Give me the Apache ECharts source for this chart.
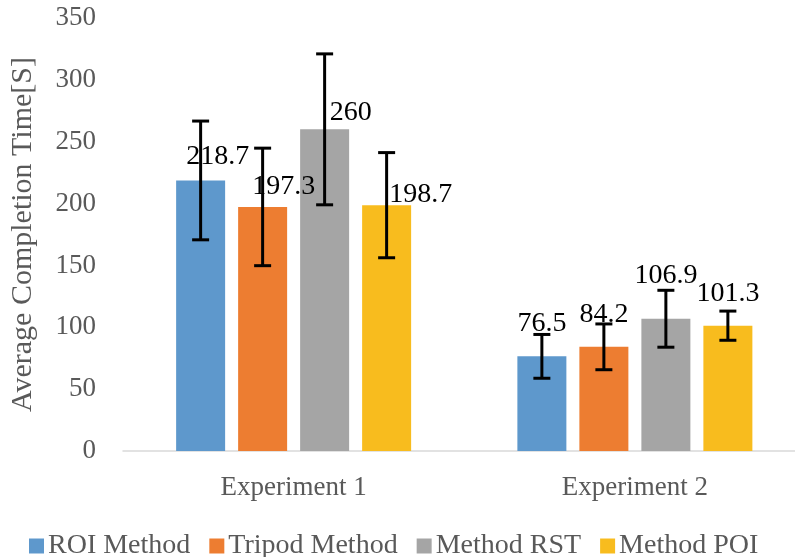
<!DOCTYPE html>
<html>
<head>
<meta charset="utf-8">
<script src="https://cdn.jsdelivr.net/npm/echarts@6/dist/echarts.min.js"></script>
<style>html,body{margin:0;padding:0;background:#fff;overflow:hidden;width:795px;height:557px;}#c{width:812px;height:557px;}</style>
</head>
<body>
<div id="c"></div>
<script>
const categories = ['Experiment 1', 'Experiment 2'];
const seriesNames = ['ROI Method', 'Tripod Method', 'Method RST', 'Method POI'];
const roiValues = [218.7, 76.5];
const tripodValues = [197.3, 84.2];
const rstValues = [260, 106.9];
const poiValues = [198.7, 101.3];
const roiErrors = [48, 17.7];
const tripodErrors = [47.5, 18.5];
const rstErrors = [61, 23];
const poiErrors = [42.5, 11.8];
const yTicks = [0, 50, 100, 150, 200, 250, 300, 350];

const values = [roiValues, tripodValues, rstValues, poiValues];
const errors = [roiErrors, tripodErrors, rstErrors, poiErrors];
const colors = ['#5E98CC', '#ED7D31', '#A5A5A5', '#F8BC1E'];
// label nudges (style only), per series per category
const labelOffsets = [
  [[17, -10], [0, -19]],
  [[21, -6], [0, -18]],
  [[26, -3], [0, -29]],
  [[34, 3], [0, -18]]
];
const BAR_W = 49, BAR_GAP = 13;
const serif = "'Liberation Serif', 'DejaVu Serif', serif";

const chart = echarts.init(document.getElementById('c'));
const series = [];
values.forEach((vals, i) => {
  series.push({
    name: seriesNames[i],
    type: 'bar',
    barWidth: BAR_W,
    barGap: (BAR_GAP / BAR_W * 100) + '%',
    itemStyle: { color: colors[i] },
    data: vals.map((v, j) => ({
      value: v,
      label: { offset: labelOffsets[i][j] }
    })),
    label: {
      show: true, position: 'top', distance: 0,
      color: '#000', fontFamily: serif, fontSize: 28
    },
    z: 2
  });
});
values.forEach((vals, i) => {
  const shift = (i - 1.5) * (BAR_W + BAR_GAP);
  series.push({
    type: 'custom',
    name: seriesNames[i] + ' err',
    silent: true,
    z: 5,
    data: vals.map((v, j) => [j, v - errors[i][j], v + errors[i][j]]),
    renderItem: function (params, api) {
      const lo = api.coord([api.value(0), api.value(1)]);
      const hi = api.coord([api.value(0), api.value(2)]);
      const x = lo[0] + shift;
      const hw = 8.5;
      const st = { stroke: '#000', lineWidth: 3 };
      return {
        type: 'group',
        children: [
          { type: 'line', shape: { x1: x, y1: lo[1], x2: x, y2: hi[1] }, style: st },
          { type: 'line', shape: { x1: x - hw, y1: lo[1], x2: x + hw, y2: lo[1] }, style: st },
          { type: 'line', shape: { x1: x - hw, y1: hi[1], x2: x + hw, y2: hi[1] }, style: st }
        ]
      };
    },
    encode: { x: 0, y: [1, 2] }
  });
});

chart.setOption({
  animation: false,
  backgroundColor: '#fff',
  grid: { left: 121.5, top: 18, width: 684, height: 433, containLabel: false },
  legend: {
    data: seriesNames,
    top: 527,
    left: 24,
    itemWidth: 15, itemHeight: 15, itemGap: 19,
    icon: 'rect',
    textStyle: { color: '#595959', fontFamily: serif, fontSize: 28, padding: [0, 0, 0, -1] }
  },
  xAxis: {
    type: 'category',
    data: categories,
    axisLine: { lineStyle: { color: '#D9D9D9', width: 1.5 } },
    axisTick: { show: false },
    axisLabel: { color: '#595959', fontFamily: serif, fontSize: 27, margin: 23 }
  },
  yAxis: {
    type: 'value',
    min: yTicks[0], max: yTicks[yTicks.length - 1], interval: 50,
    name: 'Average Completion Time[S]',
    nameLocation: 'middle',
    nameGap: 85,
    nameTextStyle: { color: '#595959', fontFamily: serif, fontSize: 30 },
    axisLine: { show: false },
    axisTick: { show: false },
    splitLine: { show: false },
    axisLabel: { color: '#595959', fontFamily: serif, fontSize: 27, margin: 27 }
  },
  series: series
});
</script>
</body>
</html>
